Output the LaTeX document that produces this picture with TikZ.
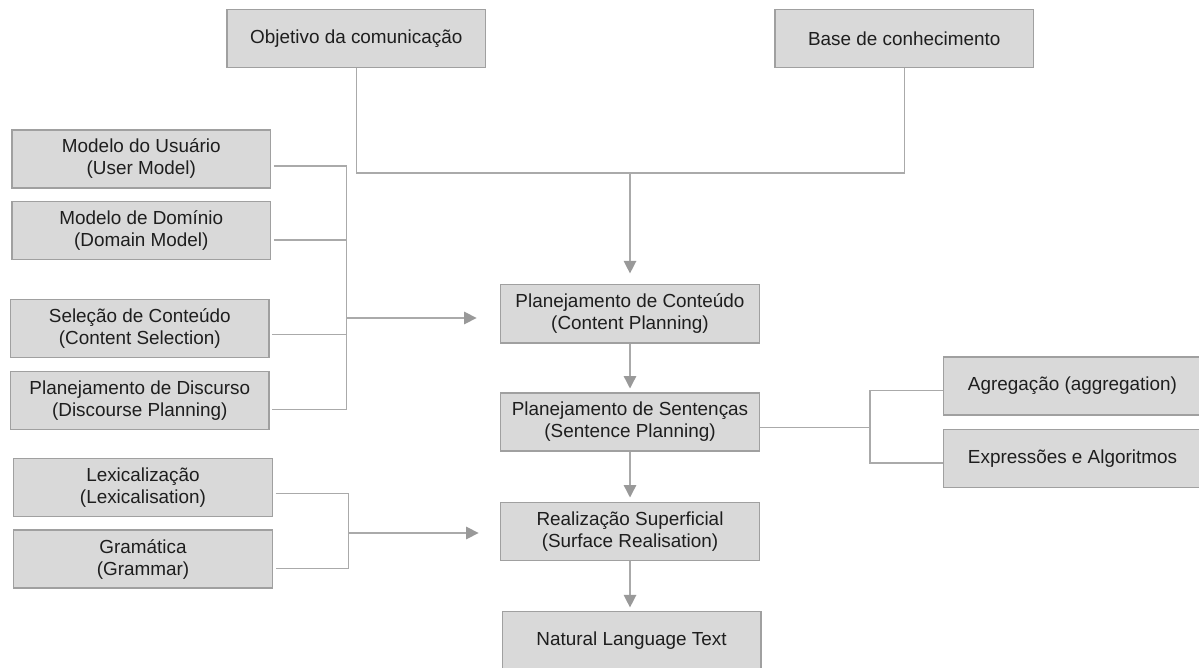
\documentclass[tikz,border=0pt]{standalone}
\usepackage{fontspec}
\setmainfont{Liberation Sans}
\usetikzlibrary{arrows.meta}
\definecolor{boxfill}{HTML}{D9D9D9}
\definecolor{boxline}{HTML}{A0A0A0}
\definecolor{connline}{HTML}{AAAAAA}
\definecolor{tipcol}{HTML}{999999}
\definecolor{txt}{HTML}{1E1E1E}
\begin{document}
\begin{tikzpicture}[x=1pt,y=-1pt,
  box/.style={draw=boxline, fill=boxfill, line width=1.4pt, inner sep=0pt,
    minimum width=258.6pt, minimum height=58pt, align=center, text=txt,
    font=\fontsize{18.9pt}{22pt}\selectfont},
  conn/.style={draw=connline, line width=1.4pt},
  arr/.style={conn, -{Triangle[length=12.5pt,width=12.5pt,color=tipcol,fill=tipcol]}}
]
\useasboundingbox (0,0) rectangle (1199,668);
\fill[white] (0,0) rectangle (1199,668);

% nodes
\node[box] (obj)  at (356.3,38.5)  {Objetivo da comunicação};
\node[box] (base) at (904.2,38.5)  {Base de conhecimento};
\node[box] (user) at (141.3,158.9) {Modelo do Usuário\\(User Model)};
\node[box] (dom)  at (141.3,230.5) {Modelo de Domínio\\(Domain Model)};
\node[box] (sel)  at (139.8,328.5) {Seleção de Conteúdo\\(Content Selection)};
\node[box] (disc) at (139.8,400.7) {Planejamento de Discurso\\(Discourse Planning)};
\node[box] (lex)  at (143.0,487.2) {Lexicalização\\(Lexicalisation)};
\node[box] (gram) at (143.0,559.0) {Gramática\\(Grammar)};
\node[box] (cp)   at (630.0,313.8) {Planejamento de Conteúdo\\(Content Planning)};
\node[box] (sp)   at (630.0,421.8) {Planejamento de Sentenças\\(Sentence Planning)};
\node[box] (sr)   at (630.0,531.5) {Realização Superficial\\(Surface Realisation)};
\node[box] (nlt)  at (631.5,640.4) {Natural Language Text};
\node[box] (agg)  at (1072.5,385.8) {Agregação (aggregation)};
\node[box] (expr) at (1072.5,458.3) {Expressões e Algoritmos};

% junction points
\coordinate (j1) at (630,173);
\coordinate (b1) at (346.7,318);
\coordinate (b2) at (348.7,533);
\coordinate (b3) at (870,427.3);

% top merge
\draw[conn] (obj.south) |- (j1) -| (base.south);
\draw[arr, shorten >=10.7pt] (j1) -- (cp.north);

% left group 1
\draw[conn] ([shift={(2.5pt,-7.1pt)}]user.east) -| (b1) |- ([shift={(2.5pt,-9pt)}]disc.east);
\draw[conn] ([shift={(2.5pt,-9.5pt)}]dom.east) coordinate (d1) -- (d1 -| b1);
\draw[conn] ([shift={(2.5pt,-5.8pt)}]sel.east) coordinate (s1) -- (s1 -| b1);
\draw[arr, shorten >=23.4pt] (b1) -- (b1 -| cp.west);

% left group 2
\draw[conn] ([shift={(2.5pt,-6.1pt)}]lex.east) -| (b2) |- ([shift={(2.5pt,-9.3pt)}]gram.east);
\draw[arr, shorten >=21.4pt] (b2) -- (b2 -| sr.west);

% main chain
\draw[arr, shorten >=3.6pt] (cp.south) -- (sp.north);
\draw[arr, shorten >=4.3pt] (sp.south) -- (sr.north);
\draw[arr, shorten >=3.3pt] (sr.south) -- (sr.south |- nlt.north);

% right group
\draw[conn] ([yshift=-5.5pt]sp.east) -- (b3);
\draw[conn] ([yshift=-4.9pt]agg.west) -| (b3) |- ([yshift=-4.7pt]expr.west);
\end{tikzpicture}
\end{document}
